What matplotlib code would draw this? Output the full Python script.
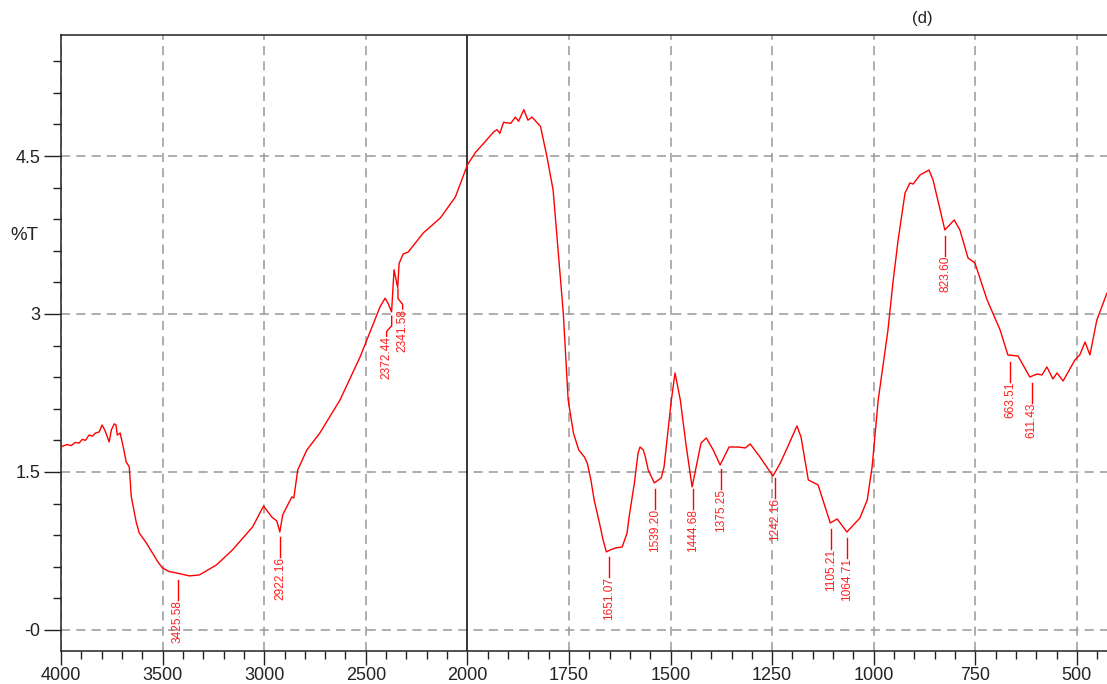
import numpy as np
import matplotlib
matplotlib.use("Agg")
import matplotlib.pyplot as plt
from matplotlib.ticker import FixedLocator, FixedFormatter

plt.rcParams["font.family"] = ["Liberation Sans", "DejaVu Sans"]

# spectrum (cm-1, %T)
wavenumber = [
    4000, 3970, 3950, 3930, 3911, 3895, 3880, 3862, 3845, 3830, 3812, 3798,
    3785, 3775, 3763, 3752, 3738, 3730, 3723, 3709, 3695, 3679, 3664, 3654,
    3630, 3615, 3580, 3549, 3524, 3501, 3467, 3432, 3368, 3319, 3235, 3156, 3057,
    3003, 2963, 2938, 2923, 2909, 2864, 2854, 2835, 2790, 2726, 2627, 2528,
    2430, 2405, 2390, 2373, 2361, 2343, 2336, 2316, 2291, 2217, 2133, 2059,
    2000, 1980, 1960, 1935, 1927, 1920, 1911, 1893, 1882, 1874, 1861, 1851,
    1841, 1820, 1804, 1789, 1764, 1752, 1739, 1726, 1712, 1705, 1696, 1688,
    1675, 1666, 1658, 1648, 1636, 1619, 1607, 1602, 1589, 1580, 1575, 1567,
    1562, 1555, 1540, 1523, 1516, 1507, 1498, 1489, 1476, 1462, 1447, 1425,
    1412, 1395, 1378, 1356, 1334, 1316, 1304, 1280, 1248, 1230, 1213, 1189,
    1179, 1161, 1137, 1107, 1090, 1066, 1034, 1016, 1004, 989, 965, 953,
    940, 923, 911, 903, 886, 864, 854, 825, 802, 788, 768, 751, 721, 689,
    670, 645, 616, 598, 586, 574, 559, 549, 534, 505, 493, 480, 468, 451, 426,
]
transmittance = [
    1.74, 1.76, 1.75, 1.78, 1.775, 1.81, 1.80, 1.85, 1.84, 1.87, 1.88, 1.946,
    1.90, 1.85, 1.785, 1.90, 1.956, 1.95, 1.851, 1.87, 1.75, 1.595, 1.548, 1.263,
    1.025, 0.921, 0.826, 0.728, 0.649, 0.589, 0.554, 0.541, 0.513, 0.522, 0.617, 0.760, 0.978,
    1.177, 1.073, 1.035, 0.930, 1.092, 1.263, 1.253, 1.519, 1.709, 1.870, 2.183, 2.592,
    3.067, 3.15, 3.10, 3.02, 3.42, 3.25, 3.48, 3.57, 3.589, 3.769, 3.912, 4.111,
    4.415, 4.535, 4.62, 4.73, 4.75, 4.715, 4.82, 4.81, 4.87, 4.83, 4.94, 4.84,
    4.87, 4.78, 4.49, 4.177, 3.010, 2.184, 1.870, 1.709, 1.642, 1.585, 1.424, 1.234,
    1.016, 0.854, 0.741, 0.760, 0.778, 0.788, 0.921, 1.073, 1.396, 1.680, 1.737, 1.709,
    1.642, 1.519, 1.396, 1.443, 1.548, 1.870, 2.184, 2.440, 2.184, 1.760, 1.358, 1.775,
    1.823, 1.709, 1.566, 1.737, 1.737, 1.728, 1.766, 1.642, 1.462, 1.585, 1.728, 1.937,
    1.832, 1.424, 1.377, 1.016, 1.054, 0.930, 1.063, 1.234, 1.548, 2.184, 2.848, 3.290,
    3.703, 4.149, 4.244, 4.234, 4.320, 4.367, 4.272, 3.798, 3.893, 3.798, 3.532, 3.484, 3.133, 2.848,
    2.611, 2.601, 2.402, 2.430, 2.421, 2.497, 2.383, 2.440, 2.364, 2.563, 2.611, 2.734, 2.611, 2.943, 3.199,
]

peak_positions = [3425.58, 2922.16, 2372.44, 2341.58, 1651.07, 1539.20, 1444.68,
                  1375.25, 1242.16, 1105.21, 1064.71, 823.60, 663.51, 611.43]

x_major = [4000, 3500, 3000, 2500, 2000, 1750, 1500, 1250, 1000, 750, 500]
y_major = [0, 1.5, 3, 4.5]
y_labels = ["-0", "1.5", "3", "4.5"]


def forward(x):
    x = np.asarray(x, dtype=float)
    return np.where(x >= 2000, x, 2 * x - 2000)


def inverse(u):
    u = np.asarray(u, dtype=float)
    return np.where(u >= 2000, u, (u + 2000) / 2)


fig = plt.figure(figsize=(11.07, 6.84), dpi=100)
ax = fig.add_axes([61 / 1107, 1 - 651 / 684, 1 - 61 / 1107, 616 / 684])

ax.set_xscale("function", functions=(forward, inverse))
ax.set_xlim(4000, 426)
ax.set_ylim(-0.2, 5.649)

x_minor = [v for v in range(3900, 2000, -100) if v not in x_major]
x_minor += [v for v in range(1950, 425, -50) if v not in x_major]
ax.xaxis.set_major_locator(FixedLocator(x_major))
ax.xaxis.set_major_formatter(FixedFormatter([str(v) for v in x_major]))
ax.xaxis.set_minor_locator(FixedLocator(x_minor))

y_minor = [round(0.3 * k, 2) for k in range(1, 19) if k % 5 != 0]
ax.yaxis.set_major_locator(FixedLocator(y_major))
ax.yaxis.set_major_formatter(FixedFormatter(y_labels))
ax.yaxis.set_minor_locator(FixedLocator(y_minor))

ax.tick_params(axis="x", which="major", direction="out", length=10, width=1, pad=1.5, labelsize=13, colors="#222222")
ax.tick_params(axis="x", which="minor", direction="out", length=5.8, width=1, color="#222222")
ax.tick_params(axis="y", which="major", direction="out", length=12, width=1, pad=3, labelsize=13, colors="#222222")
ax.tick_params(axis="y", which="minor", direction="out", length=6, width=1, color="#222222")

for side in ["left", "bottom", "top"]:
    ax.spines[side].set_linewidth(1.1)
    ax.spines[side].set_color("#222222")
ax.spines["right"].set_visible(False)

# dashed grid, solid line at the scale break
for v in x_major:
    if v != 2000:
        ax.axvline(v, color="#999999", lw=1.1, ls=(0, (6, 4)), zorder=1)
for v in y_major:
    ax.axhline(v, color="#999999", lw=1.1, ls=(0, (6, 4)), zorder=1)
ax.axvline(2000, color="black", lw=1.1, zorder=1)

ax.plot(wavenumber, transmittance, color="#ff0000", lw=1.0, zorder=3)

# peak labels: leader line below the dip, rotated number under it
wn_desc = np.array(wavenumber[::-1], dtype=float)
t_desc = np.array(transmittance[::-1], dtype=float)
shifts = {2372.44: 25, 2341.58: -23}
gap, lead = 0.06, 0.19
for p in peak_positions:
    y0 = np.interp(p, wn_desc, t_desc) - gap
    s = shifts.get(p, 0)
    if s:
        xs = [p, p, p + s, p + s]
        ys = [y0, y0 - 0.09, y0 - 0.145, y0 - lead]
    else:
        xs = [p, p]
        ys = [y0, y0 - lead]
    ax.plot(xs, ys, color="#ff0000", lw=1.0, zorder=3)
    ax.text(p + s, y0 - lead, f"{p:.2f}", rotation=90, ha="center", va="top",
            fontsize=8.6, color="#ff2020", zorder=4)

fig.text(24 / 1107, 1 - 235 / 684, "%T", ha="center", va="center", fontsize=13.5, color="#222222")
fig.text(922 / 1107, 1 - 18.5 / 684, "(d)", ha="center", va="center", fontsize=12, color="#222222")

fig.savefig("out.png", dpi=100)
